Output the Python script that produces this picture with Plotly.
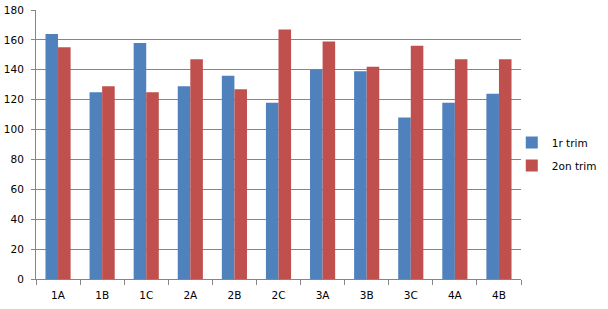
import plotly.graph_objects as go

categories = ["1A", "1B", "1C", "2A", "2B", "2C", "3A", "3B", "3C", "4A", "4B"]
trim1 = [164, 125, 158, 129, 136, 118, 140, 139, 108, 118, 124]
trim2 = [155, 129, 125, 147, 127, 167, 159, 142, 156, 147, 147]
series_names = ["1r trim", "2on trim"]
y_ticks = [0, 20, 40, 60, 80, 100, 120, 140, 160, 180]

fig = go.Figure()
fig.add_trace(go.Bar(x=categories, y=trim1, name=series_names[0],
                     marker=dict(color="#4F81BD", line=dict(width=0)), legendgroup="a"))
fig.add_trace(go.Bar(x=categories, y=trim2, name=series_names[1],
                     marker=dict(color="#C0504D", line=dict(width=0)), legendgroup="b"))

fig.update_layout(
    width=608, height=309,
    margin=dict(l=36, r=87, t=10, b=30, autoexpand=False),
    paper_bgcolor="white", plot_bgcolor="white",
    barmode="group", bargap=0.43, bargroupgap=0,
    font=dict(family="DejaVu Sans, Verdana, sans-serif", size=10.5, color="#000000"),
    showlegend=True,
    legend=dict(x=0.981, y=0.465, xanchor="left", yanchor="middle",
                font=dict(size=10.5), tracegroupgap=4, itemwidth=30,
                bgcolor="rgba(0,0,0,0)"),
)
fig.update_xaxes(
    type="category", showgrid=False, showline=True, linecolor="#868686", linewidth=1,
    ticks="outside", tickson="boundaries", ticklen=5, tickcolor="#868686",
    ticklabelstandoff=6,
)
fig.update_yaxes(
    range=[0, 180], tickvals=y_ticks, showgrid=True, gridcolor="#868686", gridwidth=1,
    showline=True, linecolor="#868686", linewidth=1,
    ticks="outside", ticklen=4, tickcolor="#868686", zeroline=False,
    ticklabelstandoff=5,
)

fig.write_html("out.html")
